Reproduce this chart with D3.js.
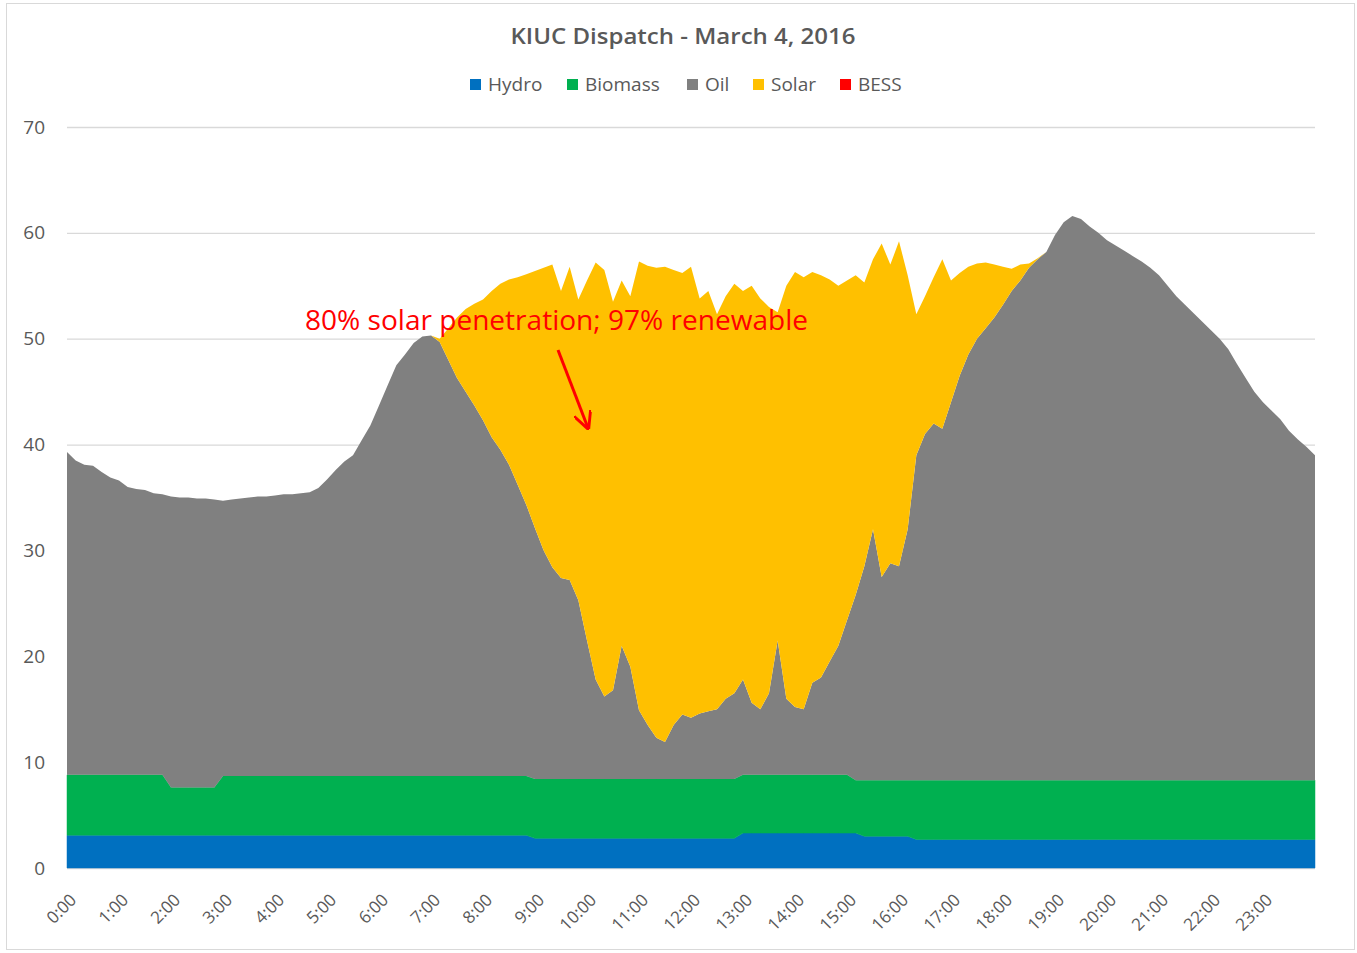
<!DOCTYPE html>
<html>
<head>
<meta charset="utf-8">
<script src="https://cdn.jsdelivr.net/npm/d3@7"></script>
<style>
  body { margin: 0; background: #fff; }
  text { font-family: "Open Sans", "Noto Sans", sans-serif; }
</style>
</head>
<body>
<svg id="svgMain" width="1357" height="953"></svg>
<script>
// series names + colours
const seriesNames = ["Hydro", "Biomass", "Oil", "Solar", "BESS"];
const seriesColors = ["#0070C0", "#00B050", "#808080", "#FFC000", "#FF0000"];

// 10-minute samples, 0:00 .. 24:00 (145 points), MW
const minutes = d3.range(0, 24 * 60 + 1, 10);

const hydro = [
  3.1,3.1,3.1,3.1,3.1,3.1,3.1,3.1,3.1,3.1,3.1,3.1,3.1,3.1,3.1,3.1,3.1,3.1,
  3.1,3.1,3.1,3.1,3.1,3.1,3.1,3.1,3.1,3.1,3.1,3.1,3.1,3.1,3.1,3.1,3.1,3.1,
  3.1,3.1,3.1,3.1,3.1,3.1,3.1,3.1,3.1,3.1,3.1,3.1,3.1,3.1,3.1,3.1,3.1,3.1,
  2.8,2.8,2.8,2.8,2.8,2.8,2.8,2.8,2.8,2.8,2.8,2.8,2.8,2.8,2.8,2.8,2.8,2.8,2.8,2.8,2.8,2.8,2.8,2.8,
  3.3,3.3,3.3,3.3,3.3,3.3,3.3,3.3,3.3,3.3,3.3,3.3,3.3,3.3,
  3.0,3.0,3.0,3.0,3.0,3.0,
  2.7,2.7,2.7,2.7,2.7,2.7,2.7,2.7,2.7,2.7,2.7,2.7,2.7,2.7,2.7,2.7,
  2.7,2.7,2.7,2.7,2.7,2.7,2.7,2.7,2.7,2.7,2.7,2.7,2.7,2.7,2.7,2.7,
  2.7,2.7,2.7,2.7,2.7,2.7,2.7,2.7,2.7,2.7,2.7,2.7,2.7,2.7,2.7
];

const biomass = [
  5.7,5.7,5.7,5.7,5.7,5.7,5.7,5.7,5.7,5.7,5.7,5.7,
  4.5,4.5,4.5,4.5,4.5,4.5,
  5.6,5.6,5.6,5.6,5.6,5.6,5.6,5.6,5.6,5.6,5.6,5.6,5.6,5.6,5.6,5.6,5.6,5.6,
  5.6,5.6,5.6,5.6,5.6,5.6,5.6,5.6,5.6,5.6,5.6,5.6,5.6,5.6,5.6,5.6,5.6,5.6,
  5.6,5.6,5.6,5.6,5.6,5.6,5.6,5.6,5.6,5.6,5.6,5.6,5.6,5.6,5.6,5.6,5.6,5.6,5.6,5.6,5.6,5.6,5.6,5.6,
  5.5,5.5,5.5,5.5,5.5,5.5,5.5,5.5,5.5,5.5,5.5,5.5,5.5,
  5.0,
  5.3,5.3,5.3,5.3,5.3,5.3,
  5.6,5.6,5.6,5.6,5.6,5.6,5.6,5.6,5.6,5.6,5.6,5.6,5.6,5.6,5.6,5.6,
  5.6,5.6,5.6,5.6,5.6,5.6,5.6,5.6,5.6,5.6,5.6,5.6,5.6,5.6,5.6,5.6,
  5.6,5.6,5.6,5.6,5.6,5.6,5.6,5.6,5.6,5.6,5.6,5.6,5.6,5.6,5.6
];

const oil = [
  30.5,29.7,29.3,29.2,28.6,28.1,27.8,27.2,27.0,26.9,26.6,26.5,
  27.5,27.4,27.4,27.3,27.3,27.2,
  26.0,26.1,26.2,26.3,26.4,26.4,26.5,26.6,26.6,26.7,26.8,27.2,
  28.0,28.9,29.7,30.3,31.7,33.1,35.0,36.9,38.8,39.8,40.9,41.5,
  41.6,41.0,39.3,37.6,36.3,35.0,33.6,32.0,30.8,29.4,27.5,25.6,
  23.7,21.6,20.0,19.0,18.8,16.9,13.1,9.4,7.8,8.4,12.6,10.6,
  6.5,5.1,3.9,3.5,5.1,6.1,5.8,6.2,6.4,6.6,7.6,8.1,
  9.0,6.8,6.2,7.7,12.7,7.2,6.4,6.2,8.7,9.2,10.7,12.2,
  14.6,17.5,20.2,23.7,19.2,20.5,20.2,23.7,30.7,32.7,33.7,33.2,
  35.7,38.2,40.2,41.7,42.7,43.7,44.9,46.2,47.2,48.4,49.2,49.9,
  51.5,52.7,53.3,53.0,52.3,51.7,51.0,50.5,50.0,49.5,49.0,48.4,
  47.7,46.7,45.7,44.9,44.1,43.3,42.5,41.7,40.7,39.3,38.0,36.7,
  35.7,34.9,34.1,33.0,32.2,31.5,30.7
];

const solar = [
  0,0,0,0,0,0,0,0,0,0,0,0,0,0,0,0,0,0,0,0,0,0,0,0,
  0,0,0,0,0,0,0,0,0,0,0,0,0,0,0,0,0,0,0,
  0.3,3.0,5.7,7.8,9.6,11.4,13.8,15.7,17.5,19.6,21.8,
  24.3,26.7,28.6,27.1,29.6,28.4,34.0,39.4,40.3,36.7,34.5,35.0,
  42.4,43.4,44.4,44.9,43.0,41.7,42.6,39.2,39.7,37.3,38.0,38.7,
  36.7,39.4,38.8,36.5,31.0,39.0,41.1,40.8,38.8,38.0,36.1,34.0,
  32.1,30.2,26.8,25.5,31.5,28.2,30.7,24.0,13.3,13.0,13.8,16.0,
  11.5,9.7,8.3,7.1,6.2,5.0,3.6,2.1,1.5,0.4,0.1,
  0,0,0,0,0,0,0,0,0,0,0,0,0,0,0,0,
  0,0,0,0,0,0,0,0,0,0,0,0,0,0,0,0
];

const bess = minutes.map(() => 0);

const yTicks = [0, 10, 20, 30, 40, 50, 60, 70];
const hourLabels = d3.range(0, 24).map(h => h + ":00");

const titleText = "KIUC Dispatch - March 4, 2016";
const noteText = "80% solar penetration; 97% renewable";

// svg + margins
let svgMain = d3.select("#svgMain");
let svgMainWidth = +svgMain.attr("width");
let svgMainHeight = +svgMain.attr("height");
var margin = { top: 127, right: 42, bottom: 85, left: 67 };
var plotWidth = svgMainWidth - margin.left - margin.right;
var plotHeight = svgMainHeight - margin.top - margin.bottom;

// chart border
svgMain.append("rect")
    .attr("x", 6.5).attr("y", 3.5)
    .attr("width", 1348).attr("height", 946)
    .style("fill", "#fff")
    .style("stroke", "#d9d9d9");

// table for stacking
const table = minutes.map((m, i) => ({
    t: m / 60,
    Hydro: hydro[i], Biomass: biomass[i], Oil: oil[i], Solar: solar[i], BESS: bess[i]
}));

const xScale = d3.scaleLinear().domain([0, 24]).range([0, plotWidth]);
const yScale = d3.scaleLinear().domain([0, 70]).range([plotHeight, 0]);
const colorScale = d3.scaleOrdinal().domain(seriesNames).range(seriesColors);

const plot = svgMain.append("g")
    .attr("transform", "translate(" + margin.left + "," + margin.top + ")");

// gridlines
let yGrid = d3.axisLeft(yScale).tickValues(yTicks).tickSize(-plotWidth).tickFormat("");
plot.append("g").attr("class", "gridlines")
    .call(yGrid)
    .call(g => g.select(".domain").remove())
    .call(g => g.selectAll("line").style("stroke", "#d9d9d9").style("stroke-width", 1.3));

// stacked areas
const stack = d3.stack().keys(seriesNames);
const layers = stack(table);

const area = d3.area()
    .x(d => xScale(d.data.t))
    .y0(d => yScale(d[0]))
    .y1(d => yScale(d[1]));

// thin outline only on the always-present layers, to hide seams
plot.selectAll(".layer")
    .data(layers)
    .enter().append("path")
    .attr("class", "layer")
    .attr("d", area)
    .style("fill", d => colorScale(d.key))
    .style("stroke", d => (d.key === "Hydro" || d.key === "Biomass") ? colorScale(d.key) : "none")
    .style("stroke-width", 0.5);

// y axis labels
let yAxis = d3.axisLeft(yScale).tickValues(yTicks).tickSize(0).tickPadding(22);
plot.append("g").attr("class", "y axis")
    .call(yAxis)
    .call(g => g.select(".domain").remove())
    .call(g => g.selectAll("text")
        .style("font-size", "19px")
        .style("fill", "#595959")
        .style("font-family", "'Open Sans', sans-serif"));

// x axis labels (rotated)
let xAxis = d3.axisBottom(xScale)
    .tickValues(d3.range(0, 24))
    .tickSize(0)
    .tickFormat(h => hourLabels[h]);
plot.append("g").attr("class", "x axis")
    .attr("transform", "translate(0," + plotHeight + ")")
    .call(xAxis)
    .call(g => g.select(".domain").remove())
    .call(g => g.selectAll("text")
        .attr("text-anchor", "end")
        .attr("dy", 0)
        .attr("y", 0)
        .attr("transform", "translate(10,33) rotate(-45)")
        .style("font-size", "17px")
        .style("fill", "#595959"));

// title
svgMain.append("text")
    .attr("x", 683)
    .attr("y", 44)
    .attr("text-anchor", "middle")
    .attr("textLength", 345)
    .attr("lengthAdjust", "spacingAndGlyphs")
    .style("font-size", "22px")
    .style("font-weight", "600")
    .style("fill", "#595959")
    .text(titleText);

// legend
const legendX = [470, 567, 687, 753, 840];
const legend = svgMain.append("g").attr("class", "legend");
seriesNames.forEach((name, i) => {
    legend.append("rect")
        .attr("x", legendX[i]).attr("y", 79)
        .attr("width", 11).attr("height", 11)
        .style("fill", seriesColors[i]);
    legend.append("text")
        .attr("x", legendX[i] + 18).attr("y", 91)
        .style("font-size", "19px")
        .style("fill", "#595959")
        .text(name);
});

// annotation
svgMain.append("text")
    .attr("x", 305)
    .attr("y", 330)
    .attr("textLength", 503)
    .attr("lengthAdjust", "spacingAndGlyphs")
    .style("font-size", "27px")
    .style("fill", "#FF0000")
    .text(noteText);

svgMain.append("defs").append("marker")
    .attr("id", "arrowHead")
    .attr("viewBox", "0 0 10 10")
    .attr("refX", 9).attr("refY", 5)
    .attr("markerWidth", 6).attr("markerHeight", 6)
    .attr("orient", "auto")
    .append("path")
    .attr("d", "M0,0 L10,5 L0,10")
    .style("fill", "none")
    .style("stroke", "#FF0000")
    .style("stroke-width", 1.6);

svgMain.append("line")
    .attr("x1", 558).attr("y1", 350)
    .attr("x2", 588).attr("y2", 428)
    .style("stroke", "#FF0000")
    .style("stroke-width", 3)
    .attr("marker-end", "url(#arrowHead)");
</script>
</body>
</html>
